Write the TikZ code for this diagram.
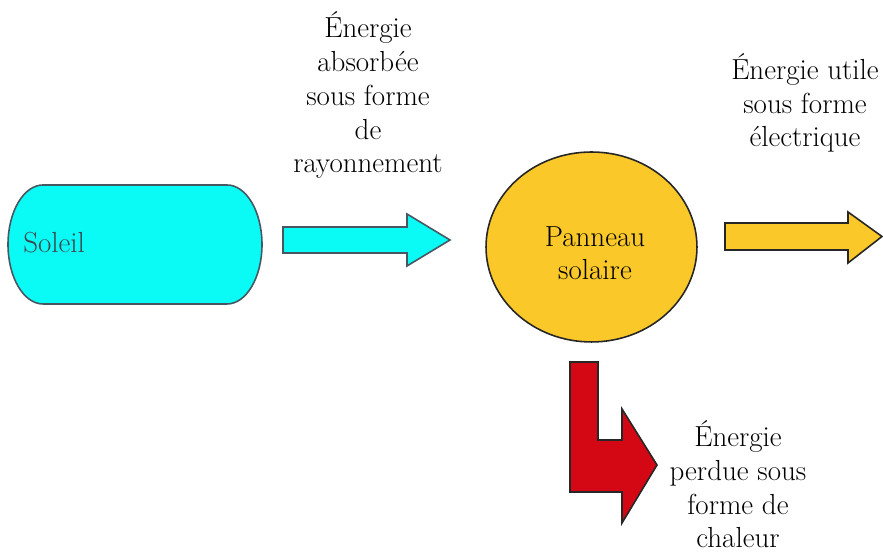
\documentclass[tikz,border=0pt]{standalone}
\usetikzlibrary{shapes.geometric}
\definecolor{soleilcyan}{RGB}{10,250,245}
\definecolor{panneaujaune}{RGB}{250,200,40}
\definecolor{chaleurrouge}{RGB}{212,8,20}
\begin{document}
\begin{tikzpicture}[x=0.02cm, y=0.02cm,
  every node/.style={font=\fontsize{16.5}{19.3}\selectfont},
  lbl/.style={align=center, anchor=base, inner sep=0pt},
  bloc/.style={draw=black!85, line width=0.9pt, line join=miter}]
  \useasboundingbox (0,0) rectangle (883,553);
  % source
  \draw[bloc, fill=soleilcyan, draw=black!70!cyan] (43,368) -- (227,368)
    arc[start angle=90, end angle=-90, x radius=35, y radius=59.5] -- (43,249)
    arc[start angle=270, end angle=90, x radius=35, y radius=59.5] -- cycle;
  \node[anchor=base west, inner sep=0pt, text=black!80!cyan] (soleil) at (23,300) {Soleil};
  % convertisseur
  \node[bloc, ellipse, fill=panneaujaune, minimum width=4.22cm, minimum height=3.8cm] (panneau) at (591.5,306) {};
  \node[lbl] (panneautxt) at (595,273) {Panneau\\solaire};
  % fleches
  \draw[bloc, fill=soleilcyan, draw=black!70!cyan] (283,326) -- (407,326) -- (407,339) -- (450,313)
    -- (407,287) -- (407,300) -- (283,300) -- cycle;
  \draw[bloc, fill=panneaujaune] (725,330) -- (848,330) -- (848,341) -- (882,316.5)
    -- (848,290) -- (848,303) -- (725,303) -- cycle;
  \draw[bloc, fill=chaleurrouge] (570,191) -- (598,191) -- (598,113) -- (622,113) -- (622,144)
    -- (657,88) -- (622,30) -- (622,61) -- (570,61) -- cycle;
  % textes
  \node[lbl] (absorbee) at (368,380) {Énergie\\absorbée\\sous forme\\de\\rayonnement};
  \node[lbl] (utile) at (805,406) {Énergie utile\\sous forme\\électrique};
  \node[lbl] (perdue) at (738,5) {Énergie\\perdue sous\\forme de\\chaleur};
\end{tikzpicture}
\end{document}
